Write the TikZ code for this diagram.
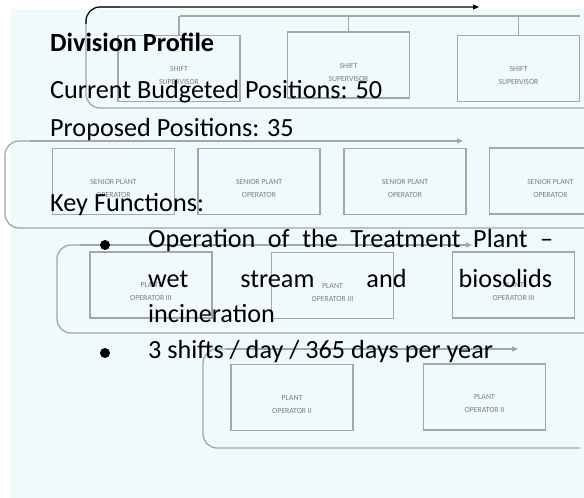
\documentclass[tikz,border=0pt]{standalone}
\usepackage{fontspec}
\setmainfont{Carlito}
\usetikzlibrary{arrows.meta}

\definecolor{panel}{RGB}{240,250,252}
\definecolor{chartline}{RGB}{160,168,168}
\definecolor{charttext}{RGB}{120,128,128}

\tikzset{
  opbox/.style={draw=chartline, line width=1.3bp, minimum width=122bp,
    minimum height=66bp, inner sep=0pt},
  optext/.style={text=charttext, font=\fontsize{7.8bp}{13bp}\selectfont,
    align=center, inner sep=0pt},
  grouprim/.style={draw=chartline, line width=1.3bp, rounded corners=14bp},
  flowtip/.style={-{Triangle[length=6bp,width=5bp]}},
  body/.style={font=\fontsize{26.2bp}{30bp}\selectfont, anchor=base west,
    inner sep=0pt, text=black},
  bulletdot/.style={fill=black}
}

\begin{document}
\begin{tikzpicture}[x=1bp,y=-1bp]
  \useasboundingbox (0,0) rectangle (584,498);
  \clip (0,0) rectangle (584,498);

  % background panel
  \fill[panel] (11,9) rectangle (584,498);

  % ---------- shift supervisors ----------
  \draw[grouprim] (590,108) -- (86,108) -- (86,7) -- (120,7);
  \coordinate (g1a) at (86,24);
  \coordinate (g1b) at (479,7);
  \draw[black, line width=1.1bp, rounded corners=14bp, flowtip]
    (g1a) -- (86,7) -- (g1b);

  \coordinate (bus1) at (180,16);
  \coordinate (bus2) at (580,16);
  \draw[chartline, line width=1.3bp] (bus1) -- (bus2);

  \node[opbox] (s1) at (179,68.5) {};
  \node[opbox] (s2) at (348.5,65) {};
  \node[opbox] (s3) at (518.5,68.5) {};
  \foreach \b in {s1,s2,s3}{
    \draw[chartline, line width=1.3bp] (\b.north) -- (\b.north |- bus1);
    \node[optext] at ([yshift=-7bp]\b.center) {SHIFT\\SUPERVISOR};
  }

  % ---------- senior plant operators ----------
  \draw[grouprim] (590,228) -- (5,228) -- (5,141) -- (40,141);
  \coordinate (g2a) at (30,141);
  \coordinate (g2b) at (463,141);
  \draw[chartline, line width=1.3bp, flowtip] (g2a) -- (g2b);

  \node[opbox] (p1) at (113.5,181.5) {};
  \node[opbox] (p2) at (259,181.5) {};
  \node[opbox] (p3) at (405,181.5) {};
  \node[opbox] (p4) at (550.5,181) {};
  \foreach \b in {p1,p2,p3,p4}{
    \node[optext] at ([yshift=-7bp]\b.center) {SENIOR PLANT\\OPERATOR};
  }

  % ---------- plant operators III ----------
  \draw[grouprim] (590,333) -- (57,333) -- (57,245) -- (90,245);
  \coordinate (g3a) at (80,245);
  \coordinate (g3b) at (472,245);
  \draw[chartline, line width=1.3bp, flowtip] (g3a) -- (g3b);

  \node[opbox] (t1) at (151,285) {};
  \node[opbox] (t2) at (332.5,285.5) {};
  \node[opbox] (t3) at (513.5,285) {};
  \foreach \b in {t1,t2,t3}{
    \node[optext] at ([yshift=-7bp]\b.center) {PLANT\\OPERATOR III};
  }

  % ---------- plant operators II ----------
  \draw[grouprim] (580,448) -- (203,448) -- (203,349) -- (240,349);
  \coordinate (g4a) at (226,349);
  \coordinate (g4b) at (518,349);
  \draw[chartline, line width=1.3bp, flowtip] (g4a) -- (g4b);

  \node[opbox] (u1) at (292,397.5) {};
  \node[opbox] (u2) at (484.5,397) {};
  \foreach \b in {u1,u2}{
    \node[optext] at ([yshift=-7bp]\b.center) {PLANT\\OPERATOR II};
  }

  % ---------- division profile text ----------
  \node[body] (title) at (50,52) {\textbf{Division Profile}};
  \node[body] (current) at (50,99) {Current Budgeted Positions: 50};
  \node[body] (proposed) at (50,137) {Proposed Positions: 35};
  \node[body] (keyfn) at (50,212) {Key Functions:};

  \fill[bulletdot] (105,245) circle (5);
  \node[body] (line1) at (148,247) {\makebox[405bp][s]{Operation of the Treatment Plant –}};
  \node[body] (line2) at (148,287) {\makebox[404bp][s]{wet stream and biosolids}};
  \node[body] (line3) at (148,322) {incineration};
  \fill[bulletdot] (105,353) circle (5);
  \node[body] (line4) at (148,358) {3 shifts / day / 365 days per year};
\end{tikzpicture}
\end{document}
